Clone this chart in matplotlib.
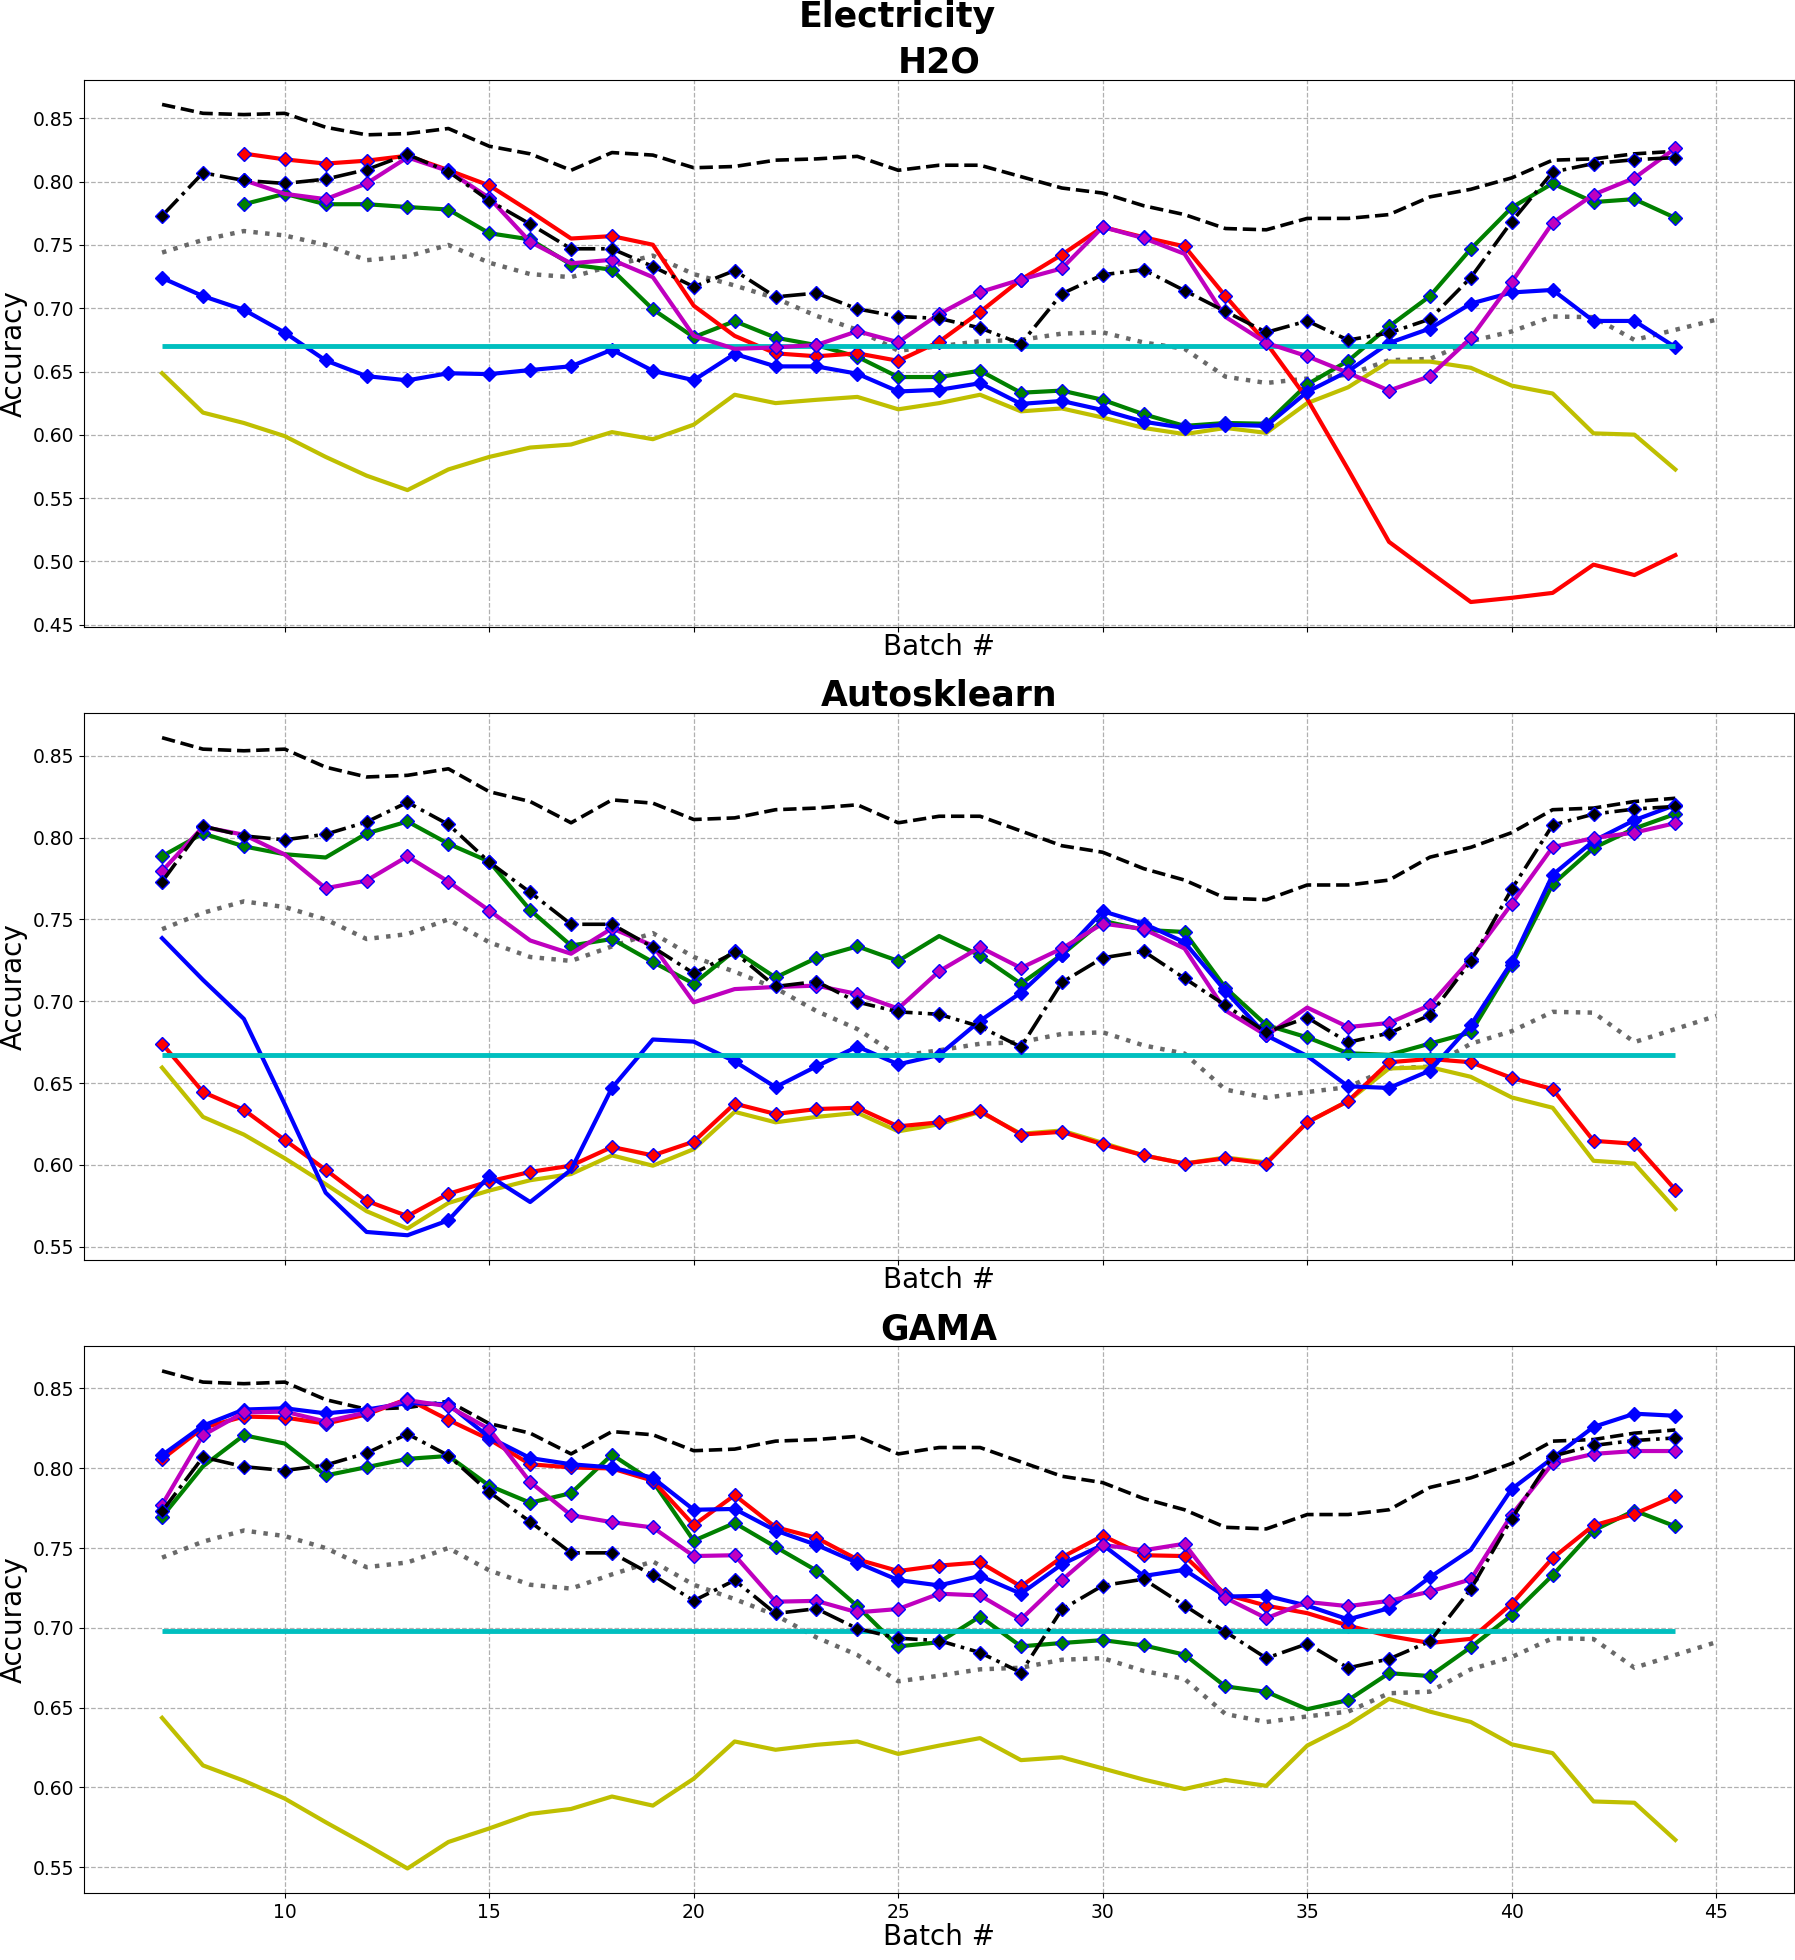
import numpy as np
import matplotlib
matplotlib.use("Agg")
import matplotlib.pyplot as plt

# ---------------- data ----------------
first_batch = 7

# reference curves shared by all three panels (start at batch 7)
upper_dashed = [0.861, 0.854, 0.853, 0.854, 0.843, 0.837, 0.838, 0.842, 0.828, 0.822,
                0.809, 0.823, 0.821, 0.811, 0.812, 0.817, 0.818, 0.820, 0.809,
                0.813, 0.813, 0.804, 0.795, 0.791, 0.781, 0.774, 0.763, 0.762, 0.771,
                0.771, 0.774, 0.788, 0.794, 0.803, 0.817, 0.818, 0.822, 0.824]
gray_dotted = [0.744, 0.754, 0.761, 0.7575, 0.750, 0.738, 0.741, 0.750, 0.736, 0.727,
               0.7246, 0.7335, 0.7416, 0.727, 0.718, 0.708, 0.694, 0.683, 0.6665,
               0.670, 0.674, 0.675, 0.680, 0.681, 0.673, 0.668, 0.646, 0.641, 0.6445,
               0.6475, 0.659, 0.660, 0.674, 0.6817, 0.6935, 0.693, 0.675, 0.683, 0.691]
black_dashdot = [0.773, 0.807, 0.801, 0.7986, 0.802, 0.8095, 0.8215, 0.808, 0.785, 0.7665,
                 0.747, 0.747, 0.733, 0.717, 0.7298, 0.709, 0.712, 0.6995, 0.6935,
                 0.692, 0.6845, 0.672, 0.7115, 0.7265, 0.7305, 0.714, 0.6975, 0.681, 0.690,
                 0.6749, 0.6805, 0.6915, 0.7243, 0.7685, 0.8076, 0.8143, 0.8174, 0.819]

panel_titles = ["H2O", "Autosklearn", "GAMA"]
cyan_level = [0.670, 0.667, 0.698]

# ---- H2O ----
h2o_yellow = [0.6487, 0.6176, 0.6094, 0.599, 0.5826, 0.5678, 0.5564, 0.5727, 0.5826, 0.590,
              0.5924, 0.6022, 0.5966, 0.6081, 0.6317, 0.6251, 0.6277, 0.630, 0.6202,
              0.6251, 0.6317, 0.6186, 0.6209, 0.6137, 0.6055, 0.6006, 0.6055, 0.6016, 0.6251,
              0.6376, 0.6579, 0.6579, 0.653, 0.6389, 0.6327, 0.6012, 0.6002, 0.5727]
h2o_red_start = 9
h2o_red = [0.8222, 0.8176, 0.8143, 0.8166, 0.8205, 0.8091, 0.797, 0.7765, 0.7551, 0.757,
           0.7502, 0.702, 0.6782, 0.6644, 0.6621, 0.6644, 0.6585,
           0.6736, 0.6971, 0.7227, 0.7423, 0.7642, 0.7561, 0.7489, 0.7096, 0.6726, 0.6284,
           0.5727, 0.5155, 0.4916, 0.468, 0.4713, 0.4752, 0.4975, 0.4893, 0.505]
h2o_red_nomark = [16, 17, 19, 20, 21, 34, 35, 36, 37, 38, 39, 40, 41, 42, 43, 44]
h2o_green_start = 9
h2o_green = [0.7822, 0.7904, 0.7822, 0.7822, 0.780, 0.778, 0.7593, 0.7544, 0.7345, 0.7305,
             0.6992, 0.6772, 0.6898, 0.6768, 0.6709, 0.6617, 0.6457,
             0.6457, 0.6507, 0.6333, 0.635, 0.6277, 0.6163, 0.6071, 0.6094, 0.6088, 0.6399,
             0.6585, 0.6857, 0.7096, 0.7469, 0.7796, 0.7986, 0.7839, 0.7862, 0.7714]
h2o_green_nomark = []
h2o_blue_start = 7
h2o_blue = [0.724, 0.7096, 0.6988, 0.6808, 0.6588, 0.6464, 0.6431, 0.6487, 0.648, 0.6512,
            0.6542, 0.6673, 0.6506, 0.6432, 0.664, 0.6541, 0.6541, 0.6483, 0.6343,
            0.6356, 0.6408, 0.6245, 0.6268, 0.6196, 0.6104, 0.6055, 0.6081, 0.6071, 0.634,
            0.6503, 0.6726, 0.684, 0.7037, 0.7125, 0.7145, 0.690, 0.690, 0.6693]
h2o_blue_nomark = []
h2o_magenta_start = 9
h2o_magenta = [0.8012, 0.7904, 0.7862, 0.7986, 0.8192, 0.8084, 0.7872, 0.7525, 0.7355, 0.7383,
               0.7246, 0.6782, 0.668, 0.6691, 0.671, 0.6819, 0.6732,
               0.6955, 0.7128, 0.7227, 0.7315, 0.7642, 0.7554, 0.743, 0.6932, 0.6726, 0.6621,
               0.649, 0.635, 0.6464, 0.6765, 0.7207, 0.7675, 0.7898, 0.8029, 0.8264]
h2o_magenta_nomark = [10, 17, 19, 20, 21, 32, 33]

# ---- Autosklearn ----
ask_yellow = [0.6594, 0.6293, 0.6185, 0.604, 0.5882, 0.5717, 0.5611, 0.5767, 0.5843, 0.5906,
              0.5944, 0.6058, 0.5995, 0.6096, 0.6324, 0.626, 0.6293, 0.6318, 0.6205,
              0.6248, 0.6324, 0.619, 0.621, 0.6134, 0.6058, 0.6008, 0.6045, 0.6015, 0.626,
              0.639, 0.6589, 0.6597, 0.6538, 0.6412, 0.6349, 0.6025, 0.6008, 0.573]
ask_red_start = 7
ask_red = [0.6741, 0.6445, 0.6336, 0.6152, 0.597, 0.578, 0.5687, 0.5823, 0.5899, 0.5957,
           0.5995, 0.6109, 0.6058, 0.6142, 0.6374, 0.6311, 0.6341, 0.6349, 0.6235,
           0.626, 0.6329, 0.6185, 0.6202, 0.6126, 0.6058, 0.6008, 0.604, 0.6008, 0.626,
           0.639, 0.6627, 0.6647, 0.6627, 0.6531, 0.6463, 0.6147, 0.6129, 0.5848]
ask_red_nomark = []
ask_green_start = 7
ask_green = [0.7886, 0.8025, 0.7946, 0.7898, 0.7878, 0.8025, 0.8098, 0.7962, 0.7853, 0.7557,
             0.734, 0.738, 0.7239, 0.7107, 0.7309, 0.7145, 0.7264, 0.7335, 0.7246,
             0.7398, 0.7279, 0.7107, 0.7284, 0.7491, 0.7436, 0.7423, 0.7082, 0.6854, 0.6779,
             0.6682, 0.6672, 0.6741, 0.6809, 0.7221, 0.7714, 0.7936, 0.8055, 0.8144]
ask_green_nomark = [10, 11, 26, 37]
ask_blue_start = 7
ask_blue = [0.7385, 0.713, 0.6892, 0.637, 0.583, 0.559, 0.557, 0.5661, 0.5932, 0.5773,
            0.597, 0.647, 0.6766, 0.6753, 0.6632, 0.6475, 0.6602, 0.6723, 0.6614,
            0.6672, 0.688, 0.7052, 0.7284, 0.755, 0.7474, 0.736, 0.7062, 0.6791, 0.6665,
            0.648, 0.647, 0.6576, 0.6854, 0.7239, 0.7772, 0.7979, 0.8106, 0.8199]
ask_blue_nomark = [7, 8, 9, 10, 11, 12, 13, 16, 17, 19, 20, 35]
ask_magenta_start = 7
ask_magenta = [0.7795, 0.8065, 0.8017, 0.7896, 0.769, 0.7737, 0.7885, 0.7731, 0.7554, 0.7371,
               0.729, 0.7445, 0.734, 0.6993, 0.7074, 0.7087, 0.7095, 0.7044, 0.6955,
               0.7183, 0.733, 0.7203, 0.7322, 0.7474, 0.7441, 0.7322, 0.6943, 0.6791, 0.6961,
               0.6842, 0.6867, 0.6976, 0.7259, 0.7595, 0.7941, 0.7997, 0.803, 0.8088]
ask_magenta_nomark = [9, 10, 16, 17, 19, 20, 21, 22, 32, 33, 35]

# ---- GAMA ----
gama_yellow = [0.6436, 0.6138, 0.6042, 0.593, 0.5782, 0.564, 0.5492, 0.5658, 0.5743, 0.5834,
               0.5865, 0.5943, 0.5886, 0.6055, 0.6288, 0.6236, 0.6267, 0.6288, 0.621,
               0.6262, 0.6309, 0.6171, 0.6189, 0.6119, 0.6049, 0.599, 0.6047, 0.601, 0.6262,
               0.6392, 0.6555, 0.6475, 0.641, 0.627, 0.6215, 0.5912, 0.5904, 0.5671]
gama_red_start = 7
gama_red = [0.8057, 0.8254, 0.8324, 0.8318, 0.828, 0.8337, 0.8435, 0.8303, 0.8181, 0.8025,
            0.8005, 0.7999, 0.7922, 0.7644, 0.7831, 0.7631, 0.7564, 0.7429, 0.7356,
            0.739, 0.741, 0.726, 0.7442, 0.7577, 0.7455, 0.745, 0.7209, 0.7139, 0.7092,
            0.7014, 0.6949, 0.6905, 0.6931, 0.7151, 0.7437, 0.7642, 0.7714, 0.7826]
gama_red_nomark = [35, 37, 38, 39]
gama_green_start = 7
gama_green = [0.7696, 0.8012, 0.8207, 0.8155, 0.7955, 0.8007, 0.8059, 0.8077, 0.7891, 0.7784,
              0.7844, 0.8085, 0.7917, 0.7546, 0.7657, 0.7507, 0.7359, 0.7136, 0.6884,
              0.691, 0.7071, 0.6884, 0.6905, 0.6923, 0.689, 0.6832, 0.6633, 0.6599, 0.649,
              0.6547, 0.6716, 0.6698, 0.6879, 0.7079, 0.733, 0.761, 0.7735, 0.7636]
gama_green_nomark = [8, 10, 35]
gama_blue_start = 7
gama_blue = [0.8082, 0.8267, 0.8368, 0.8376, 0.8344, 0.8368, 0.8409, 0.8401, 0.8194, 0.8064,
             0.8025, 0.8005, 0.794, 0.774, 0.7745, 0.761, 0.752, 0.7408, 0.7299,
             0.7266, 0.7325, 0.7214, 0.7398, 0.752, 0.7325, 0.7364, 0.7196, 0.7201, 0.7139,
             0.7053, 0.7123, 0.7317, 0.7489, 0.787, 0.8064, 0.8259, 0.8342, 0.8329]
gama_blue_nomark = [35, 39]
gama_magenta_start = 7
gama_magenta = [0.7771, 0.8207, 0.835, 0.8355, 0.8293, 0.835, 0.8427, 0.8388, 0.8246, 0.7914,
                0.7706, 0.7662, 0.7629, 0.745, 0.7455, 0.7164, 0.7169, 0.7097, 0.7118,
                0.7214, 0.7203, 0.7053, 0.7299, 0.752, 0.7486, 0.7527, 0.7188, 0.706, 0.7162,
                0.7136, 0.7169, 0.7227, 0.7304, 0.7709, 0.8031, 0.809, 0.8108, 0.8108]
gama_magenta_nomark = []

panel_data = [
    dict(yellow=h2o_yellow,
         red=(h2o_red_start, h2o_red, h2o_red_nomark),
         green=(h2o_green_start, h2o_green, h2o_green_nomark),
         blue=(h2o_blue_start, h2o_blue, h2o_blue_nomark),
         magenta=(h2o_magenta_start, h2o_magenta, h2o_magenta_nomark)),
    dict(yellow=ask_yellow,
         red=(ask_red_start, ask_red, ask_red_nomark),
         green=(ask_green_start, ask_green, ask_green_nomark),
         blue=(ask_blue_start, ask_blue, ask_blue_nomark),
         magenta=(ask_magenta_start, ask_magenta, ask_magenta_nomark)),
    dict(yellow=gama_yellow,
         red=(gama_red_start, gama_red, gama_red_nomark),
         green=(gama_green_start, gama_green, gama_green_nomark),
         blue=(gama_blue_start, gama_blue, gama_blue_nomark),
         magenta=(gama_magenta_start, gama_magenta, gama_magenta_nomark)),
]


def batches_for(start, vals):
    return np.arange(start, start + len(vals))


def marked(start, vals, nomark):
    xb = batches_for(start, vals)
    return [i for i, b in enumerate(xb) if b not in nomark]


# ---------------- plot ----------------
LW = 3
MS = 7.6
fig = plt.figure(figsize=(17.95, 19.6), dpi=100)
axes = fig.subplots(3, 1, sharex=True)
fig.subplots_adjust(left=0.047, right=0.9994, top=0.9594, bottom=0.034, hspace=0.157)

for ax, title, cyan, pdat in zip(axes, panel_titles, cyan_level, panel_data):
    ax.plot(batches_for(first_batch, upper_dashed), upper_dashed, ls="--", color="k", lw=2.6, zorder=2)
    ax.plot(batches_for(first_batch, gray_dotted), gray_dotted, ls=":", color="dimgray", lw=3.2, zorder=2)
    ax.plot(batches_for(first_batch, pdat["yellow"]), pdat["yellow"], color="y", lw=LW, zorder=3)

    for key, col, z in [("green", "g", 4), ("red", "r", 5), ("blue", "b", 6)]:
        start, vals, nomark = pdat[key]
        ax.plot(batches_for(start, vals), vals, color=col, lw=LW, marker="D", ms=MS,
                mfc=col, mec="b", mew=1, markevery=marked(start, vals, nomark), zorder=z)

    ax.hlines(cyan, first_batch, first_batch + len(pdat["yellow"]) - 1, color="c", lw=LW + 0.5, zorder=7)

    start, vals, nomark = pdat["magenta"]
    ax.plot(batches_for(start, vals), vals, color="m", lw=LW, marker="D", ms=MS,
            mfc="m", mec="b", mew=1, markevery=marked(start, vals, nomark), zorder=8)

    ax.plot(batches_for(first_batch, black_dashdot), black_dashdot, ls="-.", color="k", lw=2.6,
            marker="D", ms=MS, mfc="k", mec="b", mew=1, zorder=9)

    ax.set_title(title, fontsize=25, fontweight="bold", pad=5)
    ax.set_xlabel("Batch #", fontsize=20, labelpad=1)
    ax.set_ylabel("Accuracy", fontsize=20)
    ax.grid(True, ls="--", color="#b0b0b0", lw=0.9)
    ax.tick_params(labelsize=13.5)

fig.suptitle("Electricity", fontsize=25, fontweight="bold", y=0.9862, va="baseline")
fig.savefig("out.png", dpi=100)
